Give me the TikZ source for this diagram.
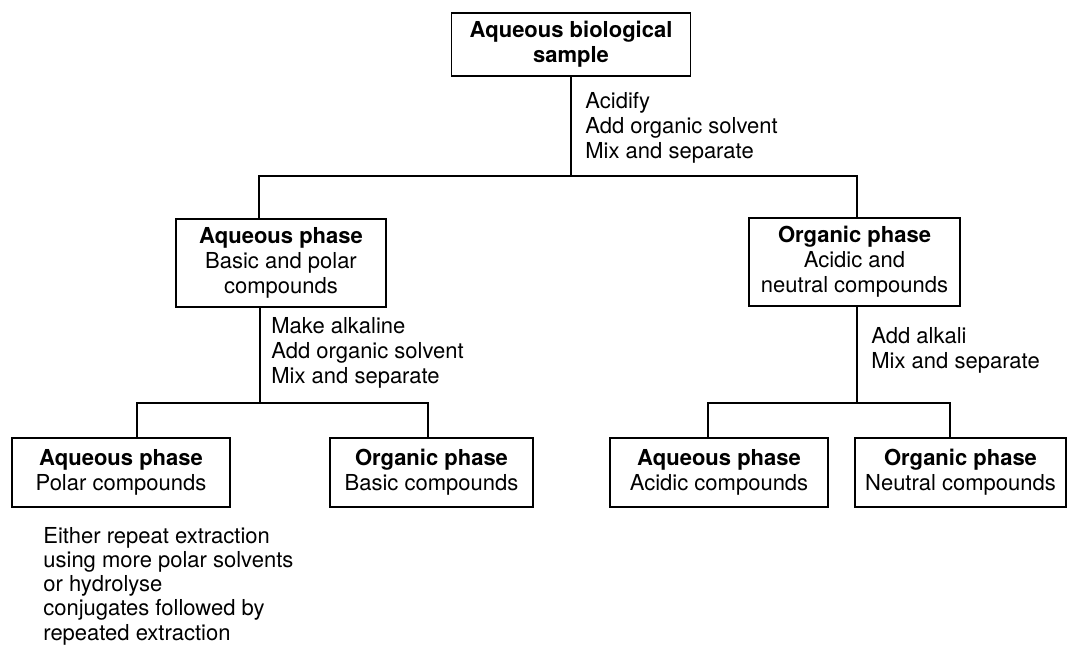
\documentclass[tikz,border=0pt]{standalone}
\usepackage{fontspec}
\setmainfont{TeX Gyre Heros}
\tikzset{
  phase/.style={draw, line width=0.9pt, align=center, inner sep=0pt,
    font=\fontsize{11}{12.5}\selectfont},
  howto/.style={align=left, inner sep=0pt, anchor=base west,
    font=\fontsize{11}{12.5}\selectfont},
  branch/.style={line width=0.9pt}
}
\begin{document}
\begin{tikzpicture}[x=0.5pt,y=-0.5pt]
\newcommand{\yfirst}{176}
\newcommand{\ysecond}{403}
\newcommand{\ylow}{472.5}
\useasboundingbox (0,0) rectangle (1068,650);

\node [phase, minimum width=119.5pt, minimum height=31.5pt] (sample) at (571,44.5)
  {\textbf{Aqueous biological}\\\textbf{sample}};
\node [phase, minimum width=105pt, minimum height=44pt] (aqmid) at (281,263)
  {\textbf{Aqueous phase}\\Basic and polar\\compounds};
\node [phase, minimum width=105.5pt, minimum height=44pt] (orgmid) at (854.5,262)
  {\textbf{Organic phase}\\Acidic and\\neutral compounds};
\node [phase, minimum width=109pt, minimum height=34.5pt] (polar) at (121,\ylow)
  {\textbf{Aqueous phase}\\Polar compounds};
\node [phase, minimum width=101.5pt, minimum height=34.5pt] (basic) at (431.5,\ylow)
  {\textbf{Organic phase}\\Basic compounds};
\node [phase, minimum width=109pt, minimum height=34.5pt] (acidic) at (719,\ylow)
  {\textbf{Aqueous phase}\\Acidic compounds};
\node [phase, minimum width=105.5pt, minimum height=34.5pt] (neutral) at (960.5,\ylow)
  {\textbf{Organic phase}\\Neutral compounds};

\node [howto] (acidify) at (585,158) {Acidify\\Add organic solvent\\Mix and separate};
\node [howto] (alkaline) at (271,383) {Make alkaline\\Add organic solvent\\Mix and separate};
\node [howto] (alkali) at (871,368) {Add alkali\\Mix and separate};
\node [howto, font=\fontsize{11}{12.1}\selectfont] (repeat) at (43,640)
  {Either repeat extraction\\using more polar solvents\\or hydrolyse\\conjugates followed by\\repeated extraction};

\coordinate (aqtop) at (259,\yfirst);
\coordinate (orgtop) at (857,\yfirst);
\coordinate (aqdown) at (260,\ysecond);
\coordinate (polartop) at (137,\ysecond);
\coordinate (basictop) at (428,\ysecond);
\coordinate (orgdown) at (857,\ysecond);
\coordinate (acidictop) at (708,\ysecond);
\coordinate (neutraltop) at (950,\ysecond);

\draw [branch] (sample.south) -- (sample.south |- aqtop);
\draw [branch] (aqmid.north -| aqtop) -- (aqtop) -- (orgtop) -- (orgmid.north -| orgtop);
\draw [branch] (aqmid.south -| aqdown) -- (aqdown);
\draw [branch] (polar.north -| polartop) -- (polartop) -- (basictop) -- (basic.north -| basictop);
\draw [branch] (orgmid.south -| orgdown) -- (orgdown);
\draw [branch] (acidic.north -| acidictop) -- (acidictop) -- (neutraltop) -- (neutral.north -| neutraltop);
\end{tikzpicture}
\end{document}
